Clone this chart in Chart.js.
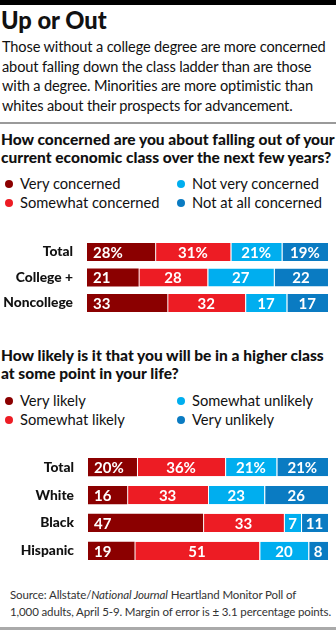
<!DOCTYPE html>
<html>
<head>
<meta charset="utf-8">
<script src="https://cdn.jsdelivr.net/npm/chart.js@4"></script>
<style>
  body { margin: 0; width: 336px; height: 630px; background: #fff; font-family: Lato, sans-serif; color: #111; position: relative; overflow: hidden; }
  .abs { position: absolute; white-space: nowrap; }
  #topbar { left: 0; top: 0; width: 336px; height: 5px; background: #000; }
  #title { left: 1px; top: 6px; font-size: 23.7px; font-weight: 900; line-height: 28px; }
  #sub { left: 2px; top: 37px; font-size: 14.6px; letter-spacing: -0.15px; line-height: 19.5px; }
  .rule { left: 0; width: 336px; height: 2px; background: #9a9a9a; }
  .q { left: 1px; font-size: 15.5px; font-weight: 900; line-height: 18px; }
  .legend { left: 0; width: 336px; font-size: 14.7px; line-height: 19px; }
  .item { position: absolute; white-space: nowrap; }
  .dot { display: inline-block; width: 8px; height: 8px; border-radius: 50%; margin-right: 7px; vertical-align: 1px; }
  #src { left: 10px; top: 587px; font-size: 11.5px; letter-spacing: -0.12px; line-height: 16.5px; color: #333; }
  canvas { position: absolute; left: 0; }
</style>
</head>
<body>
<div class="abs" id="topbar"></div>
<div class="abs" id="title">Up or Out</div>
<div class="abs" id="sub">Those without a college degree are more concerned<br>about falling down the class ladder than are those<br>with a degree. Minorities are more optimistic than<br>whites about their prospects for advancement.</div>
<div class="abs rule" style="top:122px;"></div>
<div class="abs q" style="top:130px;">How concerned are you about falling out of your<br>current economic class over the next few years?</div>
<div class="abs legend" id="legend1" style="top:174px;"></div>
<canvas id="chart1" width="336" height="105" style="top:225px;"></canvas>
<div class="abs q" style="top:346px;">How likely is it that you will be in a higher class<br>at some point in your life?</div>
<div class="abs legend" id="legend2" style="top:391px;"></div>
<canvas id="chart2" width="336" height="140" style="top:439px;"></canvas>
<div class="abs" id="src">Source: Allstate/<i>National Journal</i> Heartland Monitor Poll of<br>1,000 adults, April 5-9. Margin of error is ± 3.1 percentage points.</div>
<div class="abs rule" style="top:627px; height:3px; background:#aaa;"></div>

<script>
const colors = ['#8b0000', '#ed1c24', '#00aeef', '#0a7bc2'];

// chart 1
const cats1 = ['Total', 'College +', 'Noncollege'];
const names1 = ['Very concerned', 'Somewhat concerned', 'Not very concerned', 'Not at all concerned'];
const veryConcerned = [28, 21, 33];
const somewhatConcerned = [31, 28, 32];
const notVeryConcerned = [21, 27, 17];
const notAtAllConcerned = [19, 22, 17];

// chart 2
const cats2 = ['Total', 'White', 'Black', 'Hispanic'];
const names2 = ['Very likely', 'Somewhat likely', 'Somewhat unlikely', 'Very unlikely'];
const veryLikely = [20, 16, 47, 19];
const somewhatLikely = [36, 33, 33, 51];
const somewhatUnlikely = [21, 23, 7, 20];
const veryUnlikely = [21, 26, 11, 8];

function buildLegend(id, names) {
  const el = document.getElementById(id);
  const pos = [[5, 0], [5, 19], [177, 0], [177, 19]];
  names.forEach((n, i) => {
    const d = document.createElement('div');
    d.className = 'item';
    d.style.left = pos[i][0] + 'px';
    d.style.top = pos[i][1] + 'px';
    d.innerHTML = '<span class="dot" style="background:' + colors[i] + '"></span>' + n;
    el.appendChild(d);
  });
}
buildLegend('legend1', names1);
buildLegend('legend2', names2);

const segLabels = {
  id: 'segLabels',
  afterDatasetsDraw(chart) {
    const ctx = chart.ctx;
    ctx.save();
    ctx.fillStyle = '#fff';
    ctx.font = 'bold 15px Lato';
    ctx.textBaseline = 'middle';
    chart.data.datasets.forEach((ds, i) => {
      chart.getDatasetMeta(i).data.forEach((bar, j) => {
        const txt = ds.raw[j] + (j === 0 ? '%' : '');
        if (i === 0) {
          ctx.textAlign = 'left';
          ctx.fillText(txt, bar.base + 6, bar.y + 1);
        } else {
          ctx.textAlign = 'center';
          ctx.fillText(txt, (bar.base + bar.x) / 2, bar.y + 1);
        }
      });
    });
    ctx.restore();
  }
};

function makeChart(id, cats, names, series, barPct, leftW) {
  // each row is drawn as a share of its own total so all bars fill the width
  const sums = cats.map((c, j) => series.reduce((s, arr) => s + arr[j], 0));
  const datasets = series.map((arr, i) => ({
    label: names[i],
    raw: arr,
    data: arr.map((v, j) => v / sums[j] * 100),
    backgroundColor: colors[i],
    borderColor: '#fff',
    borderWidth: i === 0 ? 0 : { left: 1 },
    borderSkipped: false,
    barPercentage: barPct,
    categoryPercentage: 1
  }));
  return new Chart(document.getElementById(id), {
    type: 'bar',
    data: { labels: cats, datasets: datasets },
    options: {
      indexAxis: 'y',
      responsive: false,
      devicePixelRatio: 1,
      animation: false,
      layout: { padding: { left: 0, right: 8, top: 0, bottom: 0 } },
      plugins: { legend: { display: false }, tooltip: { enabled: false } },
      scales: {
        x: { stacked: true, min: 0, max: 100, display: false },
        y: {
          stacked: true,
          grid: { display: false },
          border: { display: false },
          ticks: { color: '#111', font: { family: 'Lato', size: 13.8, weight: '900' }, padding: 6 },
          afterFit(scale) { scale.width = leftW; }
        }
      }
    },
    plugins: [segLabels]
  });
}

makeChart('chart1', cats1, names1, [veryConcerned, somewhatConcerned, notVeryConcerned, notAtAllConcerned], 25 / 35, 87);
makeChart('chart2', cats2, names2, [veryLikely, somewhatLikely, somewhatUnlikely, veryUnlikely], 23 / 35, 88);
</script>
</body>
</html>
